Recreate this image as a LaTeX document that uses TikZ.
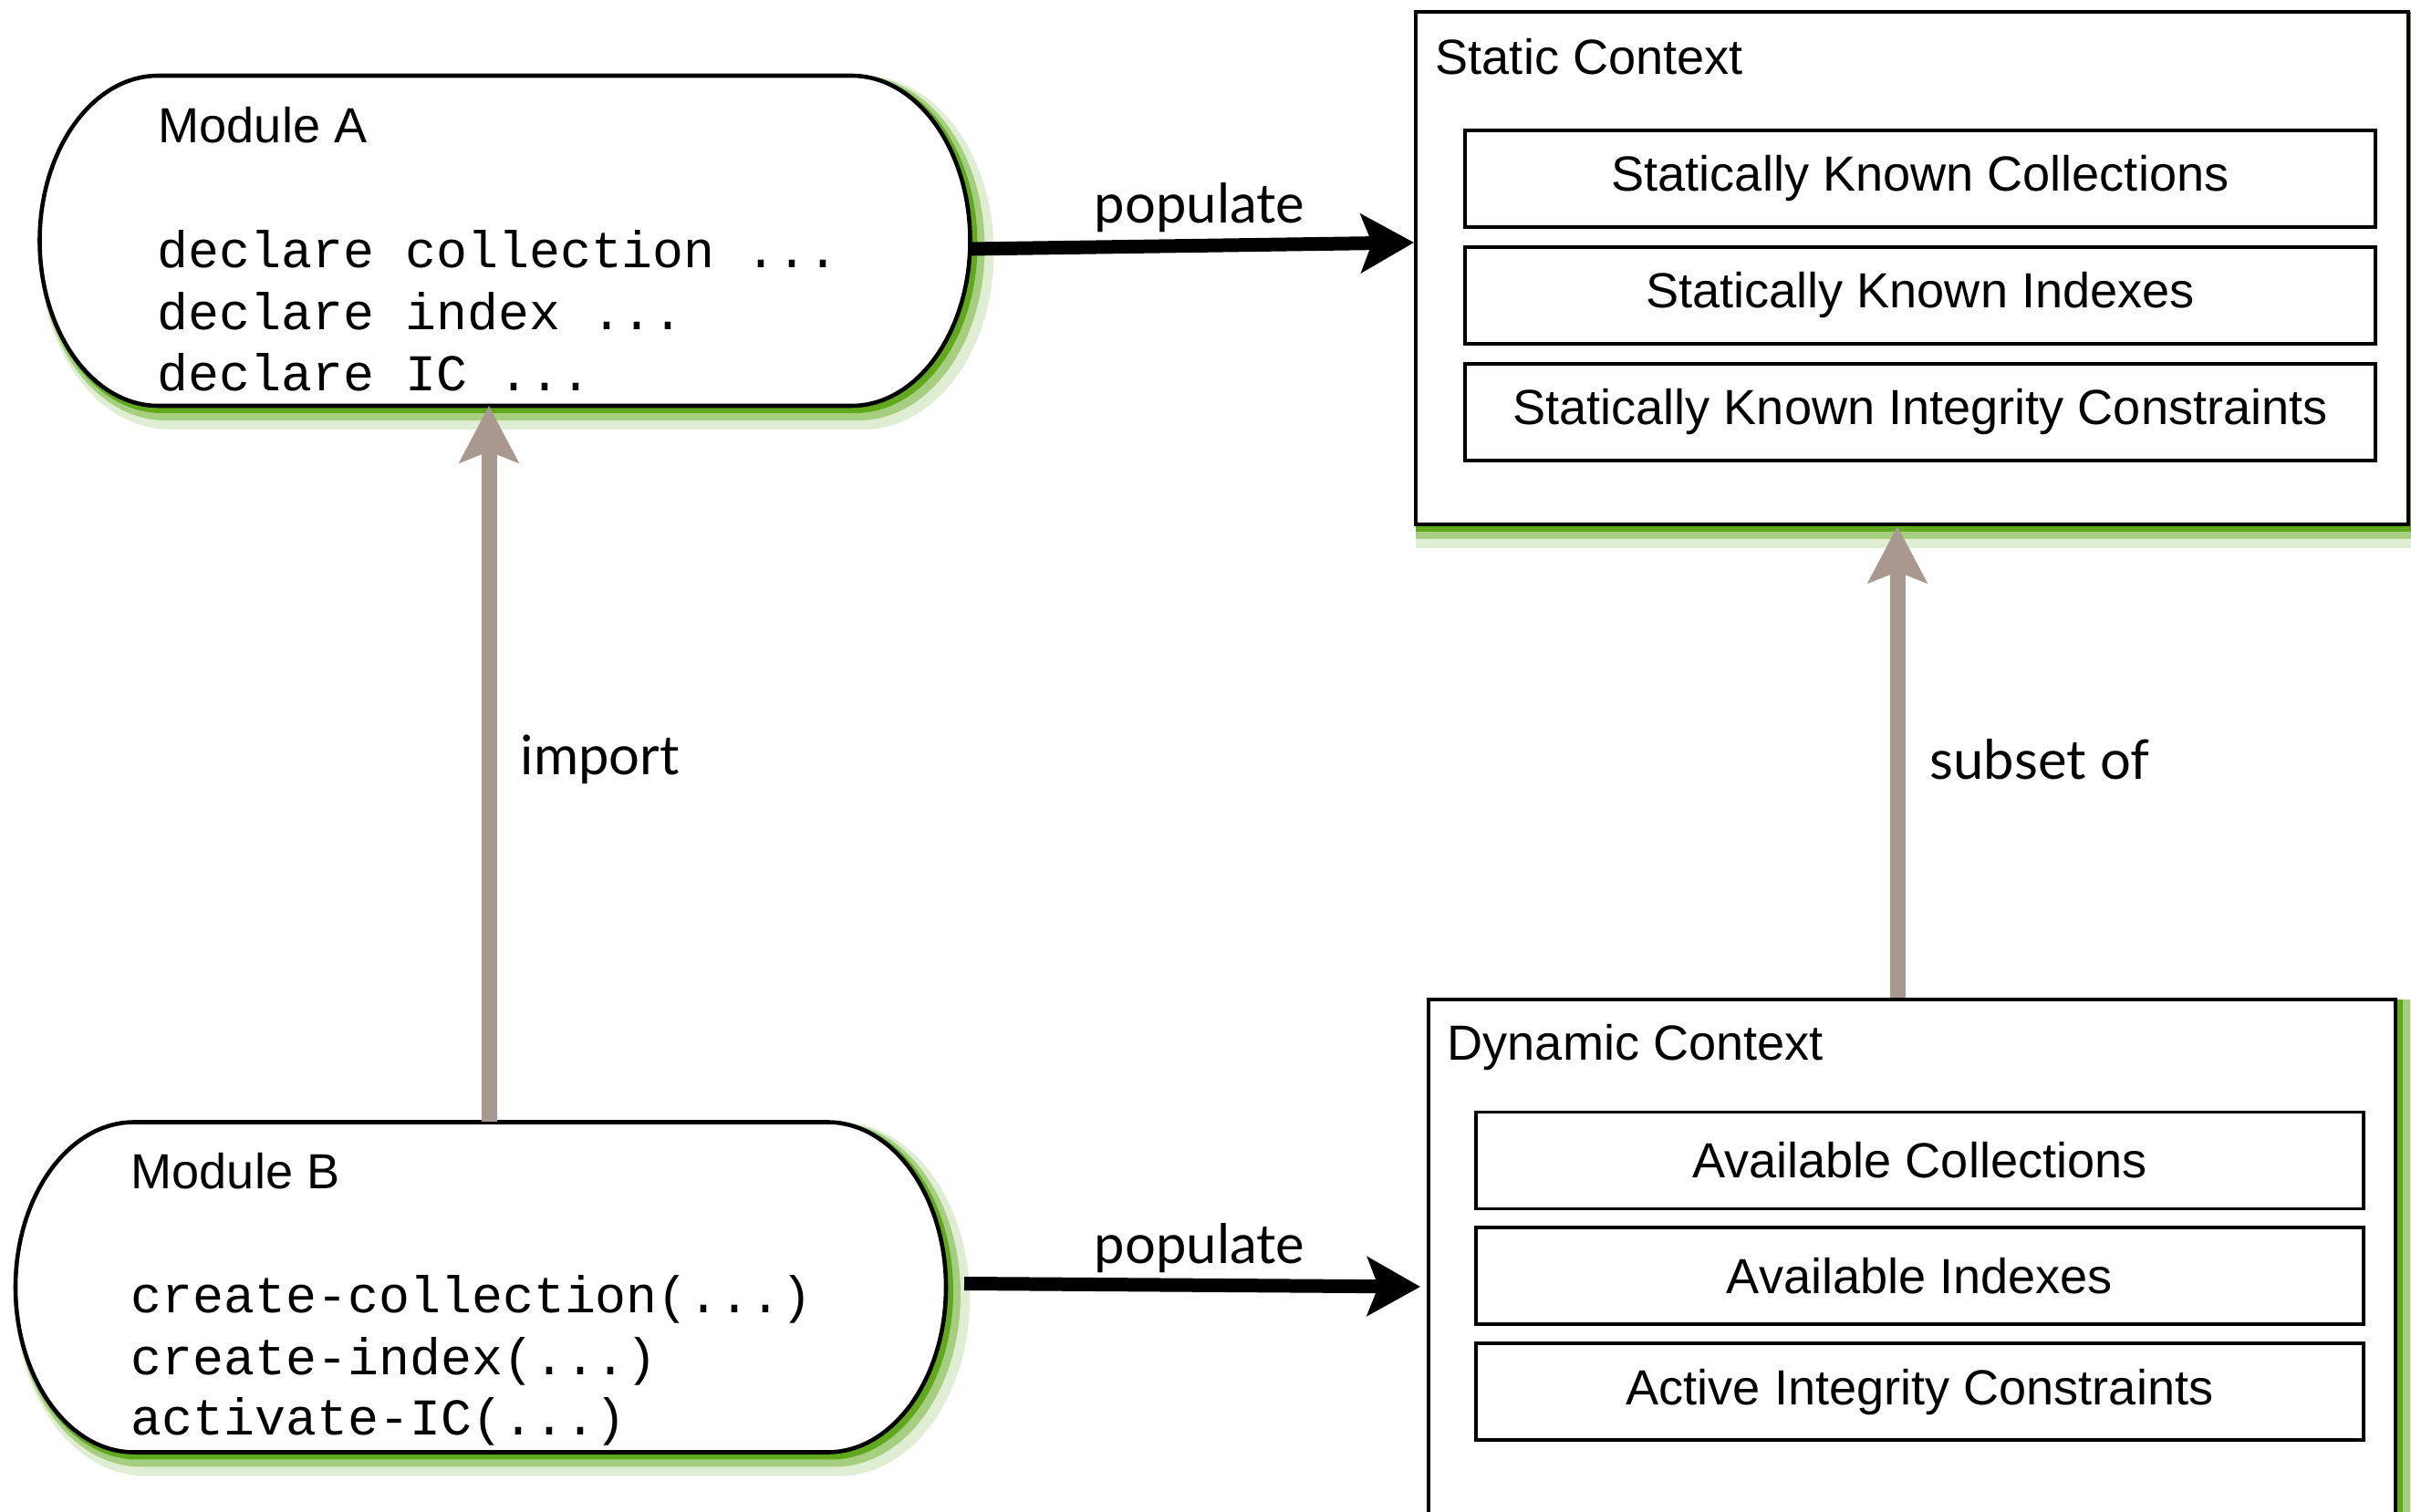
\documentclass[tikz,border=0pt]{standalone}
\usepackage{fontspec}
\setmainfont{Liberation Sans}
\newfontfamily\codefont{Liberation Mono}
\newfontfamily\gillfont{Lato}
\usetikzlibrary{arrows.meta,positioning,backgrounds}
\definecolor{shadegreen}{RGB}{96,168,28}
\definecolor{arrowgray}{RGB}{168,152,144}

\tikzset{
  greenshadow/.style={
    preaction={draw=shadegreen, fill=none, draw opacity=0.2, line width=0.26cm, transform canvas={shift={(0.13,-0.13)}}},
    preaction={draw=shadegreen, fill=none, draw opacity=0.45, line width=0.16cm, transform canvas={shift={(0.08,-0.08)}}},
    preaction={draw=shadegreen, fill=none, line width=0.08cm, transform canvas={shift={(0.04,-0.04)}}}},
  ctxbox/.style={draw, line width=1.1pt, fill=white, greenshadow, inner sep=0pt},
  itembox/.style={draw, line width=1.1pt, minimum height=1.06cm, inner sep=0pt, font=\fontsize{15.4}{18}\selectfont},
  modbox/.style={minimum width=10.2cm, minimum height=3.62cm, inner sep=0pt, outer sep=0pt},
  modline/.style={draw, line width=1.3pt, fill=white, greenshadow},
  titletext/.style={anchor=base west, inner sep=0pt, font=\fontsize{15.4}{18}\selectfont},
  codeline/.style={anchor=base west, inner sep=0pt, font=\codefont\fontsize{16.1}{19}\selectfont},
  edgelabel/.style={inner sep=0pt, font=\gillfont\fontsize{17}{20}\selectfont},
  populate/.style={line width=0.15cm, -{Stealth[length=0.58cm, width=0.64cm, inset=0.12cm]}},
  usesarrow/.style={draw=arrowgray, line width=0.17cm, -{Stealth[length=0.62cm, width=0.64cm, inset=0.12cm]}}
}

\newcommand{\modoutline}[1]{%
  \draw[modline] ([xshift=1.3cm]#1.north west) -- ([xshift=-1.3cm]#1.north east)
    arc[start angle=90, end angle=-90, x radius=1.3cm, y radius=1.81cm]
    -- ([xshift=1.3cm]#1.south west)
    arc[start angle=270, end angle=90, x radius=1.3cm, y radius=1.81cm] -- cycle;}

\begin{document}
\begin{tikzpicture}
  \useasboundingbox (0,0) rectangle (26.43,-16.58);
  \clip (0,0) rectangle (26.43,-16.58);

  \node[modbox] (moda) at (5.535,-2.64) {};
  \node[titletext] (modatitle) at (1.73,-1.57) {Module A};
  \node[codeline] (codea1) at (1.72,-2.94) {declare collection ...};
  \node[codeline] (codea2) at (1.72,-3.615) {declare index ...};
  \node[codeline] (codea3) at (1.72,-4.29) {declare IC ...};

  \node[modbox] (modb) at (5.27,-14.115) {};
  \node[titletext] (modbtitle) at (1.43,-13.04) {Module B};
  \node[codeline] (codeb1) at (1.43,-14.40) {create-collection(...)};
  \node[codeline] (codeb2) at (1.43,-15.07) {create-index(...)};
  \node[codeline] (codeb3) at (1.43,-15.74) {activate-IC(...)};

  \begin{pgfonlayer}{background}
    \modoutline{moda}
    \modoutline{modb}
  \end{pgfonlayer}

  \node[ctxbox, minimum width=10.88cm, minimum height=5.62cm] (stat) at (20.96,-2.94) {};
  \node[titletext] (stattitle) at (15.73,-0.82) {Static Context};
  \node[itembox, minimum width=9.98cm] (skcoll) at (21.05,-1.96) {Statically Known Collections};
  \node[itembox, minimum width=9.98cm, below=0.18cm of skcoll] (skidx) {Statically Known Indexes};
  \node[itembox, minimum width=9.98cm, below=0.18cm of skidx] (skic) {Statically Known Integrity Constraints};

  \node[ctxbox, minimum width=10.6cm, minimum height=6.3cm] (dyn) at (20.96,-14.11) {};
  \node[titletext] (dyntitle) at (15.86,-11.63) {Dynamic Context};
  \node[itembox, minimum width=9.73cm] (avcoll) at (21.045,-12.725) {Available Collections};
  \node[itembox, minimum width=9.73cm, below=0.17cm of avcoll] (avidx) {Available Indexes};
  \node[itembox, minimum width=9.73cm, below=0.17cm of avidx] (actic) {Active Integrity Constraints};

  \draw[populate] ([yshift=-0.09cm]moda.east) -- ([yshift=0.28cm]stat.west);
  \node[edgelabel] (popa) at (13.15,-2.28) {populate};
  \draw[populate] ([xshift=0.2cm,yshift=0.04cm]modb.east) -- ([xshift=-0.07cm]dyn.west);
  \node[edgelabel] (popb) at (13.15,-13.69) {populate};

  \coordinate (impx) at (5.36,0);
  \draw[usesarrow] (impx |- modb.north) -- (impx |- moda.south);
  \node[edgelabel, anchor=west] (implabel) at (5.70,-8.33) {import};

  \coordinate (subx) at (20.80,0);
  \draw[usesarrow] (subx |- dyn.north) -- (subx |- stat.south);
  \node[edgelabel, anchor=west] (sublabel) at (21.15,-8.33) {subset of};
\end{tikzpicture}
\end{document}
